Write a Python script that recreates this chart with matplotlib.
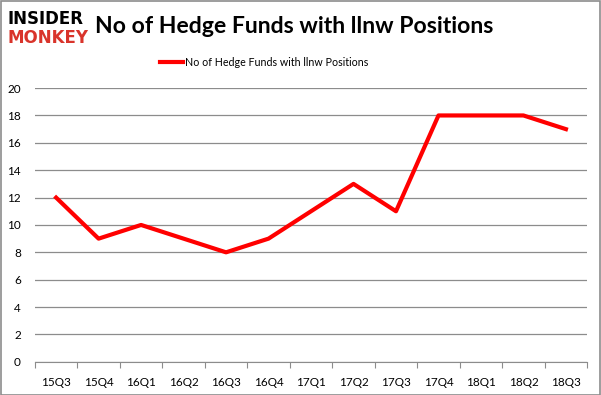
import numpy as np
import matplotlib.pyplot as plt
from matplotlib.lines import Line2D

# data
quarters = ["15Q3", "15Q4", "16Q1", "16Q2", "16Q3", "16Q4", "17Q1",
            "17Q2", "17Q3", "17Q4", "18Q1", "18Q2", "18Q3"]
funds = [12, 9, 10, 9, 8, 9, 11, 13, 11, 18, 18, 18, 17]
series_name = "No of Hedge Funds with llnw Positions"

plt.rcParams['font.family'] = ['Lato', 'DejaVu Sans']

fig = plt.figure(figsize=(6.01, 3.95), dpi=100)
ax = fig.add_axes([0.058, 0.084, 0.919, 0.693])

x = np.arange(len(quarters))
ax.plot(x, funds, color='#ff0000', lw=3, solid_joinstyle='round')

ax.set_xlim(-0.5, len(quarters) - 0.5)
ax.set_ylim(0, 20)
ax.set_yticks(range(0, 21, 2))
ax.yaxis.grid(True, color='#8c8c8c', lw=0.9)
ax.set_axisbelow(True)
ax.tick_params(axis='y', length=0, labelsize=8.5, pad=10)

# categories with tick marks on boundaries
ax.set_xticks(np.arange(-0.5, len(quarters), 1))
ax.set_xticklabels([])
ax.set_xticks(x, minor=True)
ax.set_xticklabels(quarters, minor=True, fontsize=8.5)
ax.tick_params(axis='x', which='major', length=4, color='#8c8c8c')
ax.tick_params(axis='x', which='minor', length=0, pad=11)

for side in ['top', 'right', 'left']:
    ax.spines[side].set_visible(False)
ax.spines['bottom'].set_color('#8c8c8c')

# title and legend
fig.text(0.489, 0.932, "No of Hedge Funds with llnw Positions", ha='center', va='center',
         fontsize=16.6, fontweight='bold')
leg_line = Line2D([0.266, 0.305], [0.843, 0.843], transform=fig.transFigure,
                  color='#ff0000', lw=3)
fig.add_artist(leg_line)
fig.text(0.307, 0.843, series_name, ha='left', va='center', fontsize=7.7)

# logo
fig.text(0.012, 0.953, "INSIDER", ha='left', va='center', fontsize=12,
         fontweight='black', color='black', family=['DejaVu Sans'])
fig.text(0.012, 0.903, "MONKEY", ha='left', va='center', fontsize=12,
         fontweight='black', color='#d9342b', family=['DejaVu Sans'])

# border
fig.add_artist(plt.Rectangle((0.001, 0.001), 0.997, 0.996, transform=fig.transFigure,
                             fill=False, edgecolor='#8c8c8c', lw=1.2))

fig.savefig("out.png", dpi=100)
